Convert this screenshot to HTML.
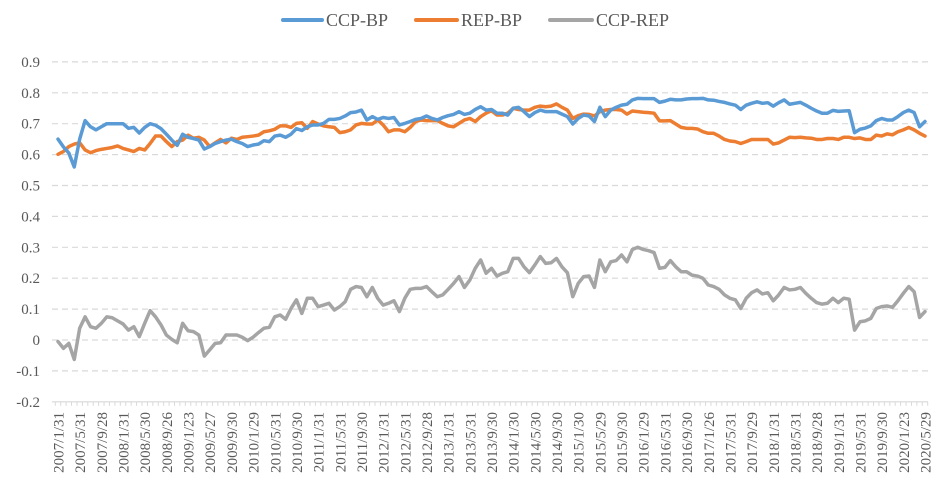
<!DOCTYPE html>
<html><head><meta charset="utf-8"><style>
html,body{margin:0;padding:0;background:#fff;}
svg{display:block;font-family:"Liberation Serif",serif;}
</style></head><body>
<svg id="chart" width="945" height="501" viewBox="0 0 945 501" xmlns="http://www.w3.org/2000/svg">
<g id="grid"></g>
<g id="yaxis"></g>
<g id="xaxis"></g>
<g id="series"></g>
<g id="legend">
  <g>
    <line x1="283" y1="20" x2="322" y2="20" stroke="#5B9BD5" stroke-width="4" stroke-linecap="round"/>
    <text x="326" y="26" font-size="18" fill="#595959">CCP-BP</text>
  </g>
  <g>
    <line x1="416" y1="20" x2="457" y2="20" stroke="#ED7D31" stroke-width="4" stroke-linecap="round"/>
    <text x="461" y="26" font-size="18" fill="#595959">REP-BP</text>
  </g>
  <g>
    <line x1="550" y1="20" x2="592" y2="20" stroke="#A5A5A5" stroke-width="4" stroke-linecap="round"/>
    <text x="596" y="26" font-size="18" fill="#595959">CCP-REP</text>
  </g>
</g>
</svg>
<script>
const xLabels = ["2007/1/31","2007/5/31","2007/9/28","2008/1/31","2008/5/30","2008/9/26","2009/1/23","2009/5/27","2009/9/30","2010/1/29","2010/5/31","2010/9/30","2011/1/31","2011/5/31","2011/9/30","2012/1/31","2012/5/31","2012/9/28","2013/1/31","2013/5/31","2013/9/30","2014/1/30","2014/5/30","2014/9/30","2015/1/30","2015/5/29","2015/9/30","2016/1/29","2016/5/31","2016/9/30","2017/1/26","2017/5/31","2017/9/29","2018/1/31","2018/5/31","2018/9/28","2019/1/31","2019/5/31","2019/9/30","2020/1/23","2020/5/29"];
const yTicks = [-0.2,-0.1,0,0.1,0.2,0.3,0.4,0.5,0.6,0.7,0.8,0.9];
const yTickLabels = ["-0.2","-0.1","0","0.1","0.2","0.3","0.4","0.5","0.6","0.7","0.8","0.9"];
const ccpBP = [0.65,0.625,0.605,0.56,0.65,0.71,0.69,0.68,0.69,0.70,0.70,0.70,0.70,0.685,0.688,0.67,0.688,0.70,0.695,0.684,0.666,0.647,0.63,0.666,0.656,0.652,0.647,0.618,0.626,0.636,0.642,0.647,0.65,0.642,0.636,0.626,0.631,0.634,0.645,0.642,0.66,0.663,0.656,0.666,0.684,0.678,0.69,0.696,0.696,0.701,0.714,0.714,0.717,0.725,0.736,0.738,0.744,0.712,0.723,0.714,0.72,0.717,0.72,0.696,0.701,0.707,0.714,0.717,0.725,0.717,0.712,0.72,0.726,0.73,0.739,0.73,0.734,0.746,0.755,0.744,0.746,0.734,
0.734,0.728,0.75,0.753,0.739,0.723,0.736,0.744,0.739,0.739,0.739,0.731,0.723,0.699,0.717,0.728,0.725,0.707,0.753,0.723,0.744,0.753,0.76,0.763,0.777,0.782,0.781,0.781,0.781,0.769,0.773,0.779,0.777,0.777,0.78,0.781,0.781,0.782,0.777,0.776,0.772,0.769,0.764,0.76,0.746,0.76,0.766,0.771,0.766,0.768,0.757,0.768,0.777,0.763,0.766,0.769,0.76,0.75,0.741,0.734,0.734,0.743,0.74,0.741,0.742,0.671,0.682,0.686,0.693,0.71,0.717,0.712,0.712,0.723,0.736,0.744,0.736,0.69,0.707];
const repBP = [0.601,0.61,0.626,0.634,0.638,0.615,0.606,0.613,0.617,0.62,0.623,0.628,0.62,0.615,0.61,0.62,0.615,0.636,0.66,0.66,0.642,0.626,0.642,0.647,0.663,0.653,0.656,0.647,0.626,0.638,0.649,0.638,0.653,0.649,0.656,0.658,0.66,0.663,0.674,0.677,0.682,0.693,0.693,0.688,0.701,0.703,0.685,0.707,0.699,0.693,0.69,0.688,0.671,0.674,0.68,0.696,0.701,0.699,0.699,0.712,0.696,0.674,0.68,0.68,0.674,0.688,0.707,0.712,0.71,0.71,0.71,0.701,0.693,0.69,0.701,0.712,0.717,0.707,0.723,0.734,0.742,0.728,
0.728,0.734,0.75,0.746,0.744,0.744,0.753,0.757,0.755,0.757,0.764,0.753,0.744,0.717,0.726,0.731,0.73,0.725,0.739,0.744,0.746,0.746,0.744,0.731,0.741,0.739,0.737,0.736,0.734,0.709,0.709,0.71,0.699,0.688,0.685,0.685,0.683,0.674,0.669,0.669,0.66,0.649,0.644,0.642,0.636,0.642,0.649,0.649,0.649,0.649,0.634,0.638,0.647,0.656,0.655,0.656,0.654,0.653,0.649,0.649,0.652,0.652,0.649,0.656,0.656,0.652,0.654,0.649,0.649,0.663,0.66,0.667,0.664,0.674,0.68,0.688,0.68,0.669,0.66];
const ccpREP = [-0.005,-0.027,-0.011,-0.063,0.038,0.075,0.043,0.038,0.054,0.075,0.072,0.062,0.052,0.032,0.043,0.011,0.054,0.095,0.075,0.049,0.016,0.002,-0.009,0.054,0.03,0.027,0.016,-0.052,-0.032,-0.011,-0.009,0.016,0.016,0.016,0.009,-0.002,0.009,0.024,0.038,0.041,0.075,0.081,0.067,0.102,0.13,0.086,0.135,0.135,0.108,0.113,0.119,0.097,0.108,0.124,0.164,0.173,0.17,0.14,0.17,0.135,0.113,0.119,0.127,0.092,0.135,0.164,0.167,0.167,0.173,0.156,0.14,0.146,0.164,0.183,0.205,0.17,0.194,0.232,0.259,0.216,0.232,0.207,
0.216,0.221,0.264,0.264,0.237,0.218,0.243,0.27,0.248,0.25,0.264,0.237,0.218,0.14,0.183,0.205,0.207,0.17,0.259,0.221,0.253,0.257,0.275,0.253,0.293,0.3,0.293,0.289,0.283,0.232,0.235,0.257,0.237,0.221,0.221,0.21,0.207,0.2,0.178,0.173,0.164,0.146,0.135,0.13,0.102,0.135,0.153,0.162,0.149,0.153,0.127,0.146,0.17,0.162,0.164,0.17,0.151,0.135,0.121,0.116,0.119,0.135,0.121,0.135,0.132,0.032,0.059,0.062,0.07,0.102,0.108,0.11,0.106,0.127,0.151,0.173,0.156,0.073,0.092];

const NS = "http://www.w3.org/2000/svg";
const X0 = 58, X1 = 925, PL = 52, PR = 928;
const N = ccpBP.length;
function xPos(i){ return X0 + (X1 - X0) * i / (N - 1); }
function yPos(v){ return 340 - v * 309; }
function mk(tag, attrs, parent){ const e = document.createElementNS(NS, tag); for (const k in attrs) e.setAttribute(k, attrs[k]); parent.appendChild(e); return e; }

const grid = document.getElementById('grid');
const yaxis = document.getElementById('yaxis');
yTicks.forEach((t, k) => {
  if (t > -0.2) {
    const gl = mk('line', {x1: PL, x2: PR, y1: yPos(t), y2: yPos(t), stroke: '#d9d9d9', 'stroke-width': 1.2, 'stroke-dasharray': '6,4'}, grid);
    
    
  }
  const tx = mk('text', {x: 40, y: yPos(t) + 5, 'text-anchor': 'end', 'font-size': 15, fill: '#595959'}, yaxis);
  tx.textContent = yTickLabels[k];
  
  
});

const xaxis = document.getElementById('xaxis');
const ax = mk('line', {x1: PL, x2: PR, y1: yPos(-0.2), y2: yPos(-0.2), stroke: '#d9d9d9', 'stroke-width': 1.2}, xaxis);


for (let i = 0; i <= N; i++) {
  const xx = xPos(i) - (X1 - X0) / (N - 1) / 2;
  const tk = mk('line', {x1: xx, x2: xx, y1: yPos(-0.2), y2: yPos(-0.2) + 4, stroke: '#d9d9d9', 'stroke-width': 1}, xaxis);
  
  
}
xLabels.forEach((lab, k) => {
  const xx = xPos(k * 4) + 5.5;
  const tx = mk('text', {x: xx, y: 412, transform: 'rotate(-90 ' + xx + ' 412)', 'text-anchor': 'end', 'font-size': 15, fill: '#595959'}, xaxis);
  tx.textContent = lab;
  
  
});

const series = document.getElementById('series');
function drawLine(vals, color, name){
  const d = vals.map((v, i) => (i ? 'L' : 'M') + xPos(i).toFixed(2) + ',' + yPos(v).toFixed(2)).join(' ');
  const p = mk('path', {d: d, fill: 'none', stroke: color, 'stroke-width': 3.5, 'stroke-linejoin': 'round', 'stroke-linecap': 'round'}, series);
  
  
}
drawLine(ccpREP, '#A5A5A5', 'ccp-rep-line');
drawLine(repBP, '#ED7D31', 'rep-bp-line');
drawLine(ccpBP, '#5B9BD5', 'ccp-bp-line');
</script>
</body></html>
